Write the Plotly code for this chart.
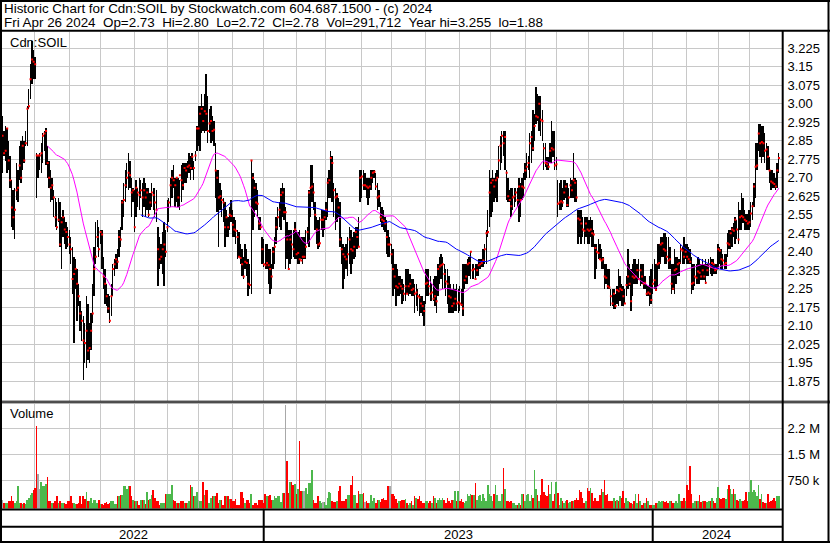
import pandas as pd
import numpy as np
import plotly.graph_objects as go

# ---------------- data ----------------
START, END = "2022-05-02", "2024-04-26"
TSX_HOLIDAYS = ["2022-05-23", "2022-07-01", "2022-08-01", "2022-09-05", "2022-10-10",
                "2022-12-26", "2022-12-27", "2023-01-02", "2023-02-20", "2023-04-07",
                "2023-05-22", "2023-07-03", "2023-08-07", "2023-09-04", "2023-10-09",
                "2023-12-25", "2023-12-26", "2024-01-01", "2024-02-19", "2024-03-29"]

HIGH = [
    2.95, 2.89, 2.91, 2.90, 2.85, 2.79, 2.69, 2.65, 2.66, 2.76,
    2.73, 2.83, 2.85, 2.87, 2.85, 2.89, 2.99, 3.06, 3.16, 3.255,
    3.22, 3.19, 2.80, 2.79, 2.80, 2.84, 2.88, 2.89, 2.90, 2.83,
    2.77, 2.73, 2.70, 2.65, 2.62, 2.60, 2.62, 2.60, 2.54, 2.57,
    2.54, 2.52, 2.50, 2.49, 2.46, 2.42, 2.38, 2.37, 2.33, 2.27,
    2.20, 2.16, 2.14, 2.11, 2.22, 2.19, 2.11, 2.15, 2.27, 2.42,
    2.52, 2.53, 2.50, 2.49, 2.49, 2.38, 2.33, 2.27, 2.23, 2.22,
    2.27, 2.35, 2.37, 2.39, 2.41, 2.49, 2.50, 2.61, 2.68, 2.73,
    2.76, 2.80, 2.77, 2.70, 2.66, 2.65, 2.69, 2.66, 2.70, 2.69,
    2.68, 2.70, 2.68, 2.66, 2.66, 2.64, 2.68, 2.66, 2.66, 2.65,
    2.50, 2.46, 2.43, 2.48, 2.52, 2.49, 2.61, 2.62, 2.70, 2.73,
    2.75, 2.70, 2.70, 2.70, 2.69, 2.75, 2.76, 2.76, 2.76, 2.77,
    2.80, 2.79, 2.80, 2.77, 2.81, 2.91, 2.99, 2.99, 3.04, 2.99,
    3.04, 3.12, 3.03, 2.98, 2.99, 2.95, 2.93, 2.84, 2.73, 2.73,
    2.68, 2.65, 2.62, 2.60, 2.57, 2.54, 2.58, 2.61, 2.57, 2.54,
    2.53, 2.49, 2.48, 2.43, 2.41, 2.38, 2.43, 2.41, 2.37, 2.35,
    2.77, 2.72, 2.69, 2.68, 2.65, 2.54, 2.54, 2.46, 2.45, 2.43,
    2.43, 2.41, 2.41, 2.35, 2.42, 2.46, 2.54, 2.58, 2.60, 2.66,
    2.68, 2.66, 2.58, 2.52, 2.49, 2.49, 2.49, 2.49, 2.52, 2.49,
    2.48, 2.49, 2.46, 2.46, 2.46, 2.49, 2.50, 2.65, 2.75, 2.75,
    2.68, 2.60, 2.54, 2.53, 2.54, 2.57, 2.57, 2.57, 2.60, 2.70,
    2.73, 2.81, 2.79, 2.68, 2.66, 2.64, 2.62, 2.60, 2.46, 2.43,
    2.42, 2.43, 2.46, 2.50, 2.49, 2.46, 2.48, 2.50, 2.50, 2.54,
    2.73, 2.73, 2.73, 2.72, 2.70, 2.70, 2.70, 2.73, 2.73, 2.73,
    2.72, 2.68, 2.65, 2.60, 2.58, 2.57, 2.54, 2.53, 2.49, 2.46,
    2.43, 2.41, 2.35, 2.35, 2.33, 2.30, 2.30, 2.29, 2.27, 2.33,
    2.33, 2.33, 2.31, 2.29, 2.29, 2.27, 2.27, 2.25, 2.23, 2.22,
    2.22, 2.20, 2.33, 2.33, 2.33, 2.30, 2.27, 2.29, 2.30, 2.30,
    2.35, 2.38, 2.39, 2.38, 2.35, 2.33, 2.33, 2.30, 2.27, 2.25,
    2.27, 2.25, 2.27, 2.25, 2.26, 2.25, 2.35, 2.35, 2.35, 2.37,
    2.38, 2.40, 2.35, 2.35, 2.35, 2.35, 2.37, 2.37, 2.37, 2.41,
    2.43, 2.49, 2.57, 2.73, 2.70, 2.73, 2.70, 2.72, 2.73, 2.83,
    2.87, 2.89, 2.89, 2.89, 2.73, 2.70, 2.65, 2.66, 2.66, 2.66,
    2.66, 2.66, 2.70, 2.68, 2.70, 2.72, 2.76, 2.80, 2.79, 2.88,
    2.89, 2.975, 2.96, 3.07, 3.04, 3.03, 3.03, 2.975, 2.84, 2.84,
    2.785, 2.785, 2.84, 2.93, 2.89, 2.89, 2.785, 2.69, 2.68, 2.69,
    2.66, 2.69, 2.69, 2.68, 2.66, 2.70, 2.69, 2.80, 2.70, 2.69,
    2.57, 2.57, 2.57, 2.54, 2.54, 2.54, 2.54, 2.53, 2.54, 2.53,
    2.49, 2.43, 2.43, 2.45, 2.43, 2.41, 2.38, 2.35, 2.35, 2.33,
    2.33, 2.25, 2.25, 2.25, 2.23, 2.26, 2.33, 2.30, 2.27, 2.26,
    2.25, 2.30, 2.41, 2.35, 2.33, 2.35, 2.37, 2.37, 2.35, 2.37,
    2.35, 2.35, 2.35, 2.30, 2.27, 2.26, 2.30, 2.33, 2.35, 2.37,
    2.35, 2.43, 2.43, 2.46, 2.46, 2.475, 2.475, 2.46, 2.46, 2.42,
    2.35, 2.35, 2.41, 2.38, 2.38, 2.37, 2.43, 2.42, 2.46, 2.43,
    2.43, 2.42, 2.41, 2.38, 2.35, 2.35, 2.35, 2.38, 2.37, 2.35,
    2.37, 2.35, 2.37, 2.35, 2.37, 2.38, 2.37, 2.37, 2.35, 2.35,
    2.43, 2.42, 2.41, 2.39, 2.39, 2.39, 2.475, 2.49, 2.49, 2.50,
    2.515, 2.54, 2.53, 2.60, 2.57, 2.64, 2.62, 2.57, 2.555, 2.555,
    2.57, 2.60, 2.60, 2.68, 2.84, 2.84, 2.92, 2.92, 2.91, 2.91,
    2.88, 2.84, 2.83, 2.785, 2.73, 2.73, 2.72, 2.70, 2.76, 2.80,
]

LOW = [
    2.72, 2.79, 2.77, 2.72, 2.73, 2.66, 2.50, 2.49, 2.45, 2.61,
    2.60, 2.69, 2.68, 2.73, 2.76, 2.83, 2.83, 2.98, 3.02, 3.08,
    3.10, 3.10, 2.62, 2.70, 2.73, 2.72, 2.76, 2.81, 2.75, 2.70,
    2.66, 2.60, 2.61, 2.54, 2.50, 2.49, 2.52, 2.42, 2.33, 2.46,
    2.43, 2.41, 2.42, 2.39, 2.35, 2.23, 2.03, 2.25, 2.12, 2.18,
    2.08, 2.04, 1.88, 1.95, 1.93, 1.96, 1.95, 2.00, 2.11, 2.22,
    2.35, 2.42, 2.38, 2.43, 2.33, 2.25, 2.19, 2.18, 2.15, 2.11,
    2.14, 2.22, 2.30, 2.33, 2.33, 2.38, 2.42, 2.49, 2.54, 2.60,
    2.66, 2.65, 2.66, 2.54, 2.60, 2.48, 2.54, 2.58, 2.57, 2.62,
    2.54, 2.58, 2.54, 2.57, 2.54, 2.57, 2.58, 2.57, 2.54, 2.52,
    2.26, 2.33, 2.35, 2.31, 2.26, 2.38, 2.48, 2.52, 2.58, 2.62,
    2.66, 2.58, 2.60, 2.58, 2.57, 2.60, 2.65, 2.68, 2.68, 2.70,
    2.72, 2.69, 2.73, 2.69, 2.77, 2.81, 2.83, 2.81, 2.88, 2.89,
    2.88, 2.89, 2.84, 2.88, 2.84, 2.85, 2.83, 2.62, 2.56, 2.42,
    2.57, 2.54, 2.52, 2.42, 2.46, 2.46, 2.49, 2.52, 2.46, 2.46,
    2.43, 2.37, 2.38, 2.35, 2.30, 2.29, 2.33, 2.30, 2.22, 2.25,
    2.23, 2.49, 2.54, 2.57, 2.54, 2.49, 2.49, 2.35, 2.34, 2.33,
    2.33, 2.27, 2.23, 2.25, 2.33, 2.35, 2.43, 2.49, 2.50, 2.49,
    2.54, 2.53, 2.33, 2.37, 2.33, 2.35, 2.37, 2.38, 2.37, 2.37,
    2.35, 2.35, 2.37, 2.35, 2.37, 2.37, 2.43, 2.42, 2.54, 2.60,
    2.57, 2.49, 2.43, 2.41, 2.42, 2.49, 2.46, 2.49, 2.53, 2.54,
    2.62, 2.62, 2.60, 2.54, 2.49, 2.52, 2.54, 2.42, 2.35, 2.25,
    2.29, 2.33, 2.30, 2.35, 2.31, 2.35, 2.37, 2.38, 2.41, 2.42,
    2.60, 2.62, 2.65, 2.65, 2.62, 2.59, 2.62, 2.65, 2.68, 2.70,
    2.65, 2.57, 2.58, 2.52, 2.50, 2.49, 2.48, 2.39, 2.38, 2.38,
    2.35, 2.22, 2.25, 2.18, 2.22, 2.22, 2.23, 2.19, 2.20, 2.20,
    2.23, 2.22, 2.23, 2.22, 2.22, 2.15, 2.18, 2.16, 2.14, 2.15,
    2.14, 2.10, 2.19, 2.22, 2.22, 2.20, 2.20, 2.20, 2.18, 2.15,
    2.22, 2.27, 2.29, 2.25, 2.25, 2.22, 2.19, 2.15, 2.15, 2.15,
    2.15, 2.16, 2.16, 2.15, 2.16, 2.18, 2.14, 2.25, 2.27, 2.27,
    2.30, 2.29, 2.29, 2.29, 2.29, 2.30, 2.30, 2.33, 2.34, 2.34,
    2.35, 2.35, 2.46, 2.50, 2.54, 2.56, 2.60, 2.62, 2.60, 2.70,
    2.73, 2.76, 2.79, 2.73, 2.61, 2.60, 2.60, 2.54, 2.57, 2.58,
    2.60, 2.58, 2.52, 2.54, 2.61, 2.62, 2.69, 2.70, 2.73, 2.70,
    2.76, 2.81, 2.85, 2.92, 2.93, 2.89, 2.87, 2.85, 2.73, 2.745,
    2.73, 2.73, 2.76, 2.76, 2.785, 2.73, 2.73, 2.54, 2.57, 2.57,
    2.58, 2.61, 2.62, 2.58, 2.58, 2.62, 2.62, 2.62, 2.60, 2.60,
    2.43, 2.46, 2.43, 2.46, 2.43, 2.46, 2.43, 2.43, 2.46, 2.42,
    2.42, 2.29, 2.33, 2.37, 2.37, 2.33, 2.33, 2.25, 2.27, 2.25,
    2.25, 2.18, 2.18, 2.17, 2.17, 2.19, 2.18, 2.20, 2.18, 2.18,
    2.19, 2.22, 2.25, 2.26, 2.16, 2.22, 2.27, 2.27, 2.27, 2.285,
    2.26, 2.27, 2.25, 2.25, 2.22, 2.22, 2.18, 2.19, 2.23, 2.25,
    2.24, 2.26, 2.33, 2.35, 2.38, 2.38, 2.35, 2.35, 2.33, 2.33,
    2.23, 2.245, 2.23, 2.27, 2.30, 2.30, 2.35, 2.35, 2.35, 2.37,
    2.35, 2.35, 2.35, 2.23, 2.245, 2.26, 2.27, 2.27, 2.27, 2.285,
    2.285, 2.285, 2.27, 2.30, 2.30, 2.31, 2.30, 2.31, 2.31, 2.31,
    2.33, 2.35, 2.33, 2.33, 2.33, 2.33, 2.38, 2.41, 2.41, 2.42,
    2.46, 2.43, 2.45, 2.43, 2.49, 2.49, 2.515, 2.49, 2.49, 2.49,
    2.49, 2.50, 2.53, 2.58, 2.62, 2.73, 2.81, 2.785, 2.76, 2.785,
    2.76, 2.73, 2.73, 2.68, 2.65, 2.66, 2.66, 2.65, 2.66, 2.72,
]

CLOSE = [
    2.87, 2.80, 2.81, 2.90, 2.77, 2.69, 2.58, 2.54, 2.57, 2.65,
    2.66, 2.75, 2.70, 2.83, 2.77, 2.84, 2.98, 2.99, 3.10, 3.18,
    3.17, 3.16, 2.79, 2.79, 2.79, 2.80, 2.87, 2.88, 2.89, 2.76,
    2.70, 2.66, 2.67, 2.62, 2.54, 2.50, 2.53, 2.43, 2.52, 2.54,
    2.49, 2.48, 2.46, 2.43, 2.41, 2.29, 2.31, 2.33, 2.27, 2.22,
    2.15, 2.12, 2.04, 2.03, 2.08, 2.00, 2.01, 2.08, 2.15, 2.33,
    2.38, 2.46, 2.41, 2.48, 2.47, 2.30, 2.27, 2.22, 2.17, 2.12,
    2.22, 2.33, 2.35, 2.37, 2.36, 2.46, 2.45, 2.60, 2.61, 2.67,
    2.70, 2.72, 2.71, 2.64, 2.65, 2.50, 2.66, 2.64, 2.63, 2.65,
    2.62, 2.65, 2.62, 2.64, 2.55, 2.60, 2.64, 2.63, 2.60, 2.57,
    2.41, 2.37, 2.38, 2.41, 2.43, 2.40, 2.50, 2.60, 2.67, 2.70,
    2.69, 2.67, 2.70, 2.62, 2.71, 2.69, 2.67, 2.74, 2.73, 2.745,
    2.75, 2.74, 2.785, 2.74, 2.79, 2.90, 2.90, 2.96, 2.98, 2.93,
    2.97, 2.96, 2.89, 2.92, 2.93, 2.89, 2.895, 2.73, 2.70, 2.62,
    2.625, 2.61, 2.60, 2.50, 2.54, 2.50, 2.55, 2.545, 2.51, 2.49,
    2.485, 2.46, 2.38, 2.375, 2.35, 2.30, 2.36, 2.355, 2.27, 2.265,
    2.77, 2.70, 2.66, 2.60, 2.595, 2.515, 2.50, 2.41, 2.35, 2.345,
    2.355, 2.345, 2.33, 2.30, 2.40, 2.42, 2.50, 2.54, 2.57, 2.63,
    2.64, 2.56, 2.56, 2.45, 2.33, 2.45, 2.43, 2.41, 2.49, 2.39,
    2.395, 2.37, 2.365, 2.38, 2.38, 2.42, 2.48, 2.64, 2.66, 2.665,
    2.64, 2.55, 2.49, 2.43, 2.435, 2.53, 2.53, 2.54, 2.57, 2.68,
    2.69, 2.78, 2.76, 2.65, 2.62, 2.625, 2.58, 2.45, 2.41, 2.39,
    2.38, 2.37, 2.39, 2.45, 2.41, 2.405, 2.42, 2.48, 2.46, 2.42,
    2.70, 2.705, 2.67, 2.67, 2.665, 2.66, 2.665, 2.70, 2.72, 2.725,
    2.665, 2.62, 2.625, 2.54, 2.53, 2.525, 2.515, 2.46, 2.43, 2.43,
    2.39, 2.33, 2.30, 2.26, 2.255, 2.27, 2.26, 2.25, 2.23, 2.26,
    2.23, 2.26, 2.27, 2.245, 2.25, 2.23, 2.235, 2.22, 2.215, 2.19,
    2.18, 2.16, 2.27, 2.275, 2.26, 2.23, 2.235, 2.21, 2.22, 2.20,
    2.33, 2.34, 2.345, 2.35, 2.31, 2.28, 2.27, 2.22, 2.215, 2.18,
    2.19, 2.21, 2.19, 2.195, 2.19, 2.185, 2.17, 2.285, 2.30, 2.35,
    2.355, 2.40, 2.325, 2.33, 2.29, 2.325, 2.345, 2.35, 2.355, 2.365,
    2.41, 2.475, 2.48, 2.64, 2.68, 2.69, 2.665, 2.69, 2.70, 2.77,
    2.83, 2.87, 2.84, 2.865, 2.72, 2.625, 2.61, 2.585, 2.62, 2.625,
    2.64, 2.61, 2.665, 2.61, 2.665, 2.66, 2.73, 2.745, 2.76, 2.84,
    2.865, 2.82, 2.91, 2.95, 2.945, 3.00, 2.935, 2.93, 2.82, 2.76,
    2.755, 2.745, 2.81, 2.82, 2.815, 2.75, 2.755, 2.595, 2.60, 2.605,
    2.60, 2.64, 2.665, 2.59, 2.62, 2.67, 2.65, 2.69, 2.68, 2.62,
    2.535, 2.53, 2.515, 2.49, 2.485, 2.515, 2.49, 2.485, 2.49, 2.475,
    2.47, 2.415, 2.40, 2.395, 2.37, 2.365, 2.37, 2.30, 2.295, 2.26,
    2.255, 2.22, 2.19, 2.23, 2.18, 2.245, 2.24, 2.25, 2.245, 2.22,
    2.19, 2.265, 2.30, 2.27, 2.20, 2.30, 2.295, 2.30, 2.325, 2.29,
    2.325, 2.30, 2.27, 2.275, 2.23, 2.235, 2.23, 2.205, 2.27, 2.285,
    2.245, 2.35, 2.355, 2.43, 2.435, 2.41, 2.405, 2.38, 2.365, 2.37,
    2.27, 2.25, 2.325, 2.33, 2.35, 2.355, 2.41, 2.405, 2.38, 2.40,
    2.38, 2.37, 2.36, 2.27, 2.275, 2.30, 2.295, 2.32, 2.315, 2.30,
    2.325, 2.30, 2.275, 2.325, 2.35, 2.34, 2.355, 2.35, 2.325, 2.33,
    2.41, 2.405, 2.37, 2.365, 2.35, 2.355, 2.435, 2.43, 2.475, 2.49,
    2.485, 2.53, 2.49, 2.45, 2.54, 2.545, 2.54, 2.53, 2.525, 2.515,
    2.52, 2.555, 2.585, 2.665, 2.745, 2.75, 2.88, 2.84, 2.845, 2.84,
    2.81, 2.815, 2.785, 2.73, 2.685, 2.68, 2.675, 2.665, 2.73, 2.78,
]

VOLUME_K = [
    182, 85, 85, 85, 134, 134, 278, 134, 85, 134,
    566, 85, 85, 50, 85, 60, 182, 230, 326, 374,
    470, 520, 2317, 932, 499, 691, 566, 566, 634, 826,
    153, 134, 85, 85, 153, 278, 85, 134, 85, 85,
    85, 60, 134, 153, 278, 85, 85, 60, 50, 85,
    297, 40, 297, 200, 403, 134, 134, 230, 85, 182,
    182, 85, 182, 60, 40, 30, 85, 114, 60, 85,
    153, 134, 40, 60, 278, 278, 326, 326, 585, 585,
    489, 566, 566, 278, 182, 153, 153, 153, 37, 182,
    182, 182, 60, 393, 182, 200, 326, 470, 230, 134,
    134, 37, 85, 85, 85, 355, 355, 355, 355, 614,
    182, 134, 85, 85, 85, 134, 134, 85, 85, 85,
    153, 614, 557, 278, 278, 403, 182, 134, 134, 691,
    326, 451, 451, 85, 230, 278, 278, 278, 374, 85,
    182, 182, 37, 297, 297, 297, 211, 211, 134, 134,
    211, 37, 37, 393, 393, 230, 85, 182, 182, 85,
    345, 37, 85, 85, 37, 182, 182, 182, 85, 345,
    297, 297, 326, 182, 182, 278, 230, 278, 278, 120,
    374, 374, 2923, 1307, 374, 691, 691, 614, 634, 355,
    499, 1894, 441, 422, 422, 518, 355, 662, 662, 1047,
    182, 85, 85, 278, 153, 85, 100, 100, 37, 230,
    393, 374, 153, 114, 114, 134, 422, 566, 153, 153,
    134, 211, 326, 326, 614, 874, 326, 326, 85, 422,
    345, 345, 374, 114, 134, 85, 85, 326, 134, 230,
    85, 182, 182, 114, 211, 230, 182, 182, 566, 566,
    355, 355, 278, 211, 85, 153, 134, 182, 182, 211,
    85, 37, 85, 134, 37, 278, 230, 211, 278, 134,
    85, 85, 153, 134, 85, 134, 85, 278, 230, 85,
    182, 230, 182, 230, 182, 85, 230, 134, 85, 182,
    182, 422, 134, 422, 134, 211, 114, 85, 134, 355,
    278, 355, 326, 326, 662, 182, 278, 326, 134, 355,
    230, 134, 614, 345, 297, 153, 355, 595, 326, 134,
    153, 345, 1096, 489, 134, 153, 114, 153, 85, 85,
    37, 37, 85, 37, 355, 345, 153, 326, 355, 153,
    326, 230, 1047, 489, 326, 153, 326, 778, 403, 326,
    297, 595, 345, 691, 134, 345, 691, 374, 37, 230,
    134, 85, 153, 182, 85, 114, 153, 134, 182, 230,
    182, 451, 403, 230, 85, 153, 518, 422, 518, 374,
    153, 230, 134, 153, 326, 499, 403, 759, 326, 345,
    134, 153, 134, 230, 134, 182, 153, 278, 230, 441,
    85, 230, 134, 114, 85, 60, 153, 355, 85, 355,
    153, 37, 85, 85, 230, 153, 20, 20, 37, 20,
    85, 85, 134, 114, 134, 134, 114, 153, 85, 153,
    134, 85, 85, 153, 85, 355, 134, 153, 230, 134,
    595, 470, 1163, 355, 85, 134, 153, 153, 326, 114,
    153, 134, 153, 114, 153, 134, 230, 134, 85, 230,
    547, 230, 211, 230, 230, 211, 499, 614, 489, 345,
    489, 345, 163, 153, 211, 134, 153, 182, 403, 153,
    403, 759, 403, 451, 403, 278, 614, 211, 345, 114,
    85, 85, 355, 114, 153, 163, 230, 134, 278, 292,
]

PRICE_TICKS = [1.875, 1.95, 2.025, 2.10, 2.175, 2.25, 2.325, 2.40, 2.475, 2.55,
               2.625, 2.70, 2.775, 2.85, 2.925, 3.00, 3.075, 3.15, 3.225]
PRICE_TICK_TEXT = ["1.875", "1.95", "2.025", "2.10", "2.175", "2.25", "2.325", "2.40",
                   "2.475", "2.55", "2.625", "2.70", "2.775", "2.85", "2.925", "3.00",
                   "3.075", "3.15", "3.225"]
VOL_TICKS = [750000, 1500000, 2250000]
VOL_TICK_TEXT = ["750 k", "1.5 M", "2.2 M"]

TITLE_1 = "Historic Chart for Cdn:SOIL by Stockwatch.com 604.687.1500 - (c) 2024"
SP2 = "\u00a0\u00a0"
TITLE_2 = ("Fri Apr 26 2024" + SP2 + "Op=2.73" + SP2 + "Hi=2.80" + SP2 + "Lo=2.72" + SP2 +
           "Cl=2.78" + SP2 + "Vol=291,712" + SP2 + "Year hi=3.255" + SP2 + "lo=1.88")
SYMBOL = "Cdn:SOIL"

# ---------------- derived series ----------------
dates = pd.bdate_range(START, END)
dates = dates[~dates.isin(pd.to_datetime(TSX_HOLIDAYS))]
n = min(len(dates), len(CLOSE))
dates = dates[:n]
idx = np.arange(n)
hi = np.array(HIGH[:n]); lo = np.array(LOW[:n]); cl = np.array(CLOSE[:n])
vol = np.array(VOLUME_K[:n]) * 1000.0
close_s = pd.Series(cl)
ma30 = close_s.rolling(30).mean()
ma90 = close_s.rolling(90).mean()
diff = np.diff(cl, prepend=cl[0])
vcol = np.where(diff > 1e-9, "#4cb84c", np.where(diff < -1e-9, "#ff0000", "#a8a8a8"))

month_starts = [i for i in range(1, n) if dates[i].month != dates[i - 1].month]
year_starts = [i for i in range(1, n) if dates[i].year != dates[i - 1].year]
years = sorted(set(d.year for d in dates))

# ---------------- geometry (pixels) ----------------
W, H = 830, 543
X0_PX, PX_PER_DAY = 2.3, 1.556
PL, PR = 2.0, 781.5
P_TOP, P_BOT = 32.0, 400.5
V_TOP, V_BOT = 403.5, 508.5

def fx(p):
    return p / W

def fy(p):
    return 1 - p / H

def px_to_idx(p):
    return (p - X0_PX) / PX_PER_DAY

xr = [px_to_idx(PL), px_to_idx(PR)]
PPU = 18.5 / 0.075
p_top = 3.225 + (48.3 - P_TOP) / PPU
p_bot = 3.225 - (P_BOT - 48.3) / PPU
VPU = 25.85 / 750000
v_zero_px = 480.0 + 25.85
v_bot = -(V_BOT - v_zero_px) / VPU
v_top = (v_zero_px - V_TOP) / VPU

FONT = "Liberation Sans, Arial, sans-serif"
GRID = "#c8c8c8"

fig = go.Figure()
fig.add_trace(go.Bar(x=idx, y=hi - lo, base=lo, width=0.9, marker=dict(color="black", line_width=0),
                     xaxis="x", yaxis="y", hoverinfo="skip"))
fig.add_trace(go.Scatter(x=idx + 0.15, y=cl, mode="markers", xaxis="x", yaxis="y",
                         marker=dict(symbol="square", size=2, color="#ff0000", line_width=0), hoverinfo="skip"))
fig.add_trace(go.Scatter(x=idx, y=ma30, mode="lines", line=dict(color="#ff00ff", width=1),
                         xaxis="x", yaxis="y", hoverinfo="skip"))
fig.add_trace(go.Scatter(x=idx, y=ma90, mode="lines", line=dict(color="#0000ff", width=1),
                         xaxis="x", yaxis="y", hoverinfo="skip"))
fig.add_trace(go.Bar(x=idx, y=vol - v_bot, base=v_bot, width=1.0, marker=dict(color=vcol, line_width=0),
                     xaxis="x2", yaxis="y2", hoverinfo="skip"))

xcommon = dict(range=xr, domain=[fx(PL), fx(PR)], tickvals=month_starts, showticklabels=False,
               ticks="", showgrid=True, gridcolor=GRID, gridwidth=1, zeroline=False, showline=False,
               fixedrange=True)
fig.update_layout(
    width=W, height=H, margin=dict(l=0, r=0, t=0, b=0),
    paper_bgcolor="white", plot_bgcolor="white", showlegend=False, barmode="overlay",
    bargap=0, hovermode=False,
    xaxis=dict(anchor="y", **xcommon),
    xaxis2=dict(anchor="y2", matches="x", **xcommon),
    yaxis=dict(domain=[fy(P_BOT), fy(P_TOP)], range=[p_bot, p_top], side="right",
               tickvals=PRICE_TICKS, ticktext=PRICE_TICK_TEXT, ticks="", showgrid=True,
               gridcolor=GRID, gridwidth=1, zeroline=False, showline=False, ticklabelstandoff=5,
               tickfont=dict(family=FONT, size=13, color="black"), fixedrange=True),
    yaxis2=dict(domain=[fy(V_BOT), fy(V_TOP)], range=[v_bot, v_top], side="right", anchor="x2",
                tickvals=VOL_TICKS, ticktext=VOL_TICK_TEXT, ticks="", showgrid=True,
                gridcolor=GRID, gridwidth=1, zeroline=False, showline=False, ticklabelstandoff=5,
                tickfont=dict(family=FONT, size=13, color="black"), fixedrange=True),
)

shapes = []
def pline(x0, y0, x1, y1, w=2):
    shapes.append(dict(type="line", xref="paper", yref="paper", x0=fx(x0), y0=fy(y0),
                       x1=fx(x1), y1=fy(y1), line=dict(color="black", width=w)))

pline(0, 1, W, 1)            # top border
pline(1, 0, 1, H)            # left border
pline(828.5, 0, 828.5, H)    # right border
pline(0, 542, W, 542)        # bottom border
pline(0, 30.7, W, 30.7)      # header underline
pline(782.7, 30.7, 782.7, H) # right axis line
pline(0, 401.2, W, 401.2, 1) # panel separator (double)
pline(0, 402.8, W, 402.8, 1)
pline(0, 509.5, 782.7, 509.5)  # volume bottom
pline(0, 526.7, 782.7, 526.7)  # date strip middle
for ys in year_starts:
    shapes.append(dict(type="line", xref="x", yref="paper", x0=ys, x1=ys, y0=fy(509.5), y1=fy(542),
                       line=dict(color="black", width=2)))
fig.update_layout(shapes=shapes)

ann = []
def text(x, y, s, size=13, xanchor="left"):
    ann.append(dict(x=fx(x), y=fy(y), xref="paper", yref="paper", text=s, showarrow=False,
                    xanchor=xanchor, yanchor="middle", font=dict(family=FONT, size=size, color="black")))

text(1.5, 8.8, TITLE_1, 13.4)
text(1.5, 22.8, TITLE_2, 13.4)
text(8, 42, SYMBOL, 13)
text(8, 413.5, "Volume", 13)

bounds = [0] + year_starts + [n]
for k, yv in enumerate(years):
    a = max(bounds[k], xr[0]); b = bounds[k + 1]
    ann.append(dict(x=(a + b) / 2, y=fy(534.5), xref="x", yref="paper", text=str(yv), showarrow=False,
                    xanchor="center", yanchor="middle", font=dict(family=FONT, size=13, color="black")))
fig.update_layout(annotations=ann)

fig.write_html("out.html", include_plotlyjs=True,
               config={"displayModeBar": False, "staticPlot": True},
               post_script="document.body.style.margin='0px';document.body.style.overflow='hidden';")
